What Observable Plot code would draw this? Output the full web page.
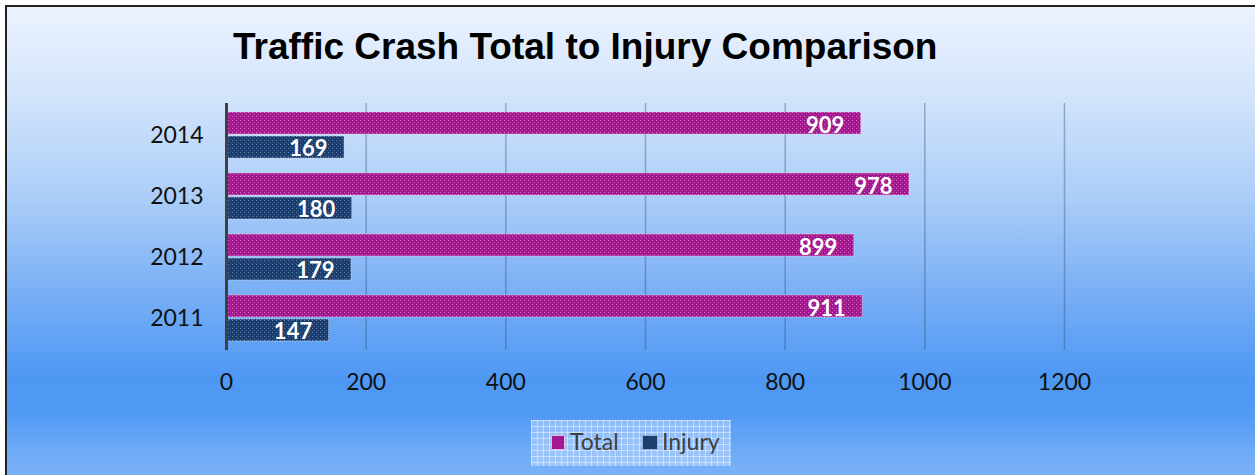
<!DOCTYPE html>
<html>
<head>
<meta charset="utf-8">
<script src="https://cdn.jsdelivr.net/npm/d3@7"></script>
<script src="https://cdn.jsdelivr.net/npm/@observablehq/plot@0.6"></script>
<style>
  html, body { margin: 0; padding: 0; width: 1255px; height: 475px; overflow: hidden; }
  #bg {
    position: absolute; left: 5px; top: 5px; width: 1260px; height: 480px;
    border-top: 2px solid #222; border-left: 2px solid #222;
    background: linear-gradient(to bottom,
      #ebf3fe 0px, #d2e4fb 90px, #a9ccf8 195px, #74acf5 295px,
      #4e98f4 370px, #4f9af5 405px, #6ba8f6 440px, #82b7f8 480px);
  }
  #title {
    position: absolute; left: 233px; top: 28px; margin: 0;
    font-family: "Liberation Sans", Arial, sans-serif; font-weight: bold;
    font-size: 37px; line-height: 37px; color: #000; white-space: nowrap;
  }
  #chart { position: absolute; left: 0; top: 0; }
  #legend {
    position: absolute; left: 531px; top: 420px; width: 200px; height: 46px;
    background-color: rgba(190, 215, 250, 0.55);
    background-image:
      repeating-linear-gradient(to right, rgba(255,255,255,0.45) 0 1px, transparent 1px 6px),
      repeating-linear-gradient(to bottom, rgba(255,255,255,0.45) 0 1px, transparent 1px 6px);
    font-family: Lato, sans-serif; font-weight: 400; font-size: 23px; line-height: 23px; color: #404040;
  }
  #legend .sw { position: absolute; top: 16px; height: 13px; }
  #legend .lab { position: absolute; top: 10px; white-space: nowrap; }
</style>
</head>
<body>
<div id="bg"></div>
<div id="chart"></div>
<div id="title">Traffic Crash Total to Injury Comparison</div>
<div id="legend"></div>
<script>
// ---- data ----
const years = ["2014", "2013", "2012", "2011"];
const series = ["Total", "Injury"];
const totalValues = [909, 978, 899, 911];
const injuryValues = [169, 180, 179, 147];
const xTicks = [0, 200, 400, 600, 800, 1000, 1200];
const seriesColors = ["#a4198f", "#1d3f70"];

const rows = [];
years.forEach((y, i) => {
  rows.push({year: y, series: "Total", value: totalValues[i]});
  rows.push({year: y, series: "Injury", value: injuryValues[i]});
});
const totalRows = rows.filter(d => d.series === "Total");
const injuryRows = rows.filter(d => d.series === "Injury");

const W = 1255, H = 475;
const chart = Plot.plot({
  width: W, height: H,
  marginLeft: 226, marginRight: 191, marginTop: 103, marginBottom: 125,
  style: {background: "transparent", fontFamily: "Lato, sans-serif", fontSize: "23px", fontWeight: 400, color: "#111"},
  x: {domain: [0, 1200], label: null},
  y: {domain: years, paddingInner: 0.24, paddingOuter: 0.12, label: null},
  marks: [
    Plot.ruleX(xTicks.filter(v => v > 0), {stroke: "#2d4b70", strokeOpacity: 0.38, strokeWidth: 1.5}),
    Plot.barX(totalRows, {x: "value", y: "year", insetBottom: 24, fill: "url(#pTotal)",
      stroke: "#f3c6ea", strokeOpacity: 0.8, strokeWidth: 1, strokeDasharray: "1.5,1"}),
    Plot.barX(injuryRows, {x: "value", y: "year", insetTop: 24, fill: "url(#pInjury)",
      stroke: "#c9d6e8", strokeOpacity: 0.8, strokeWidth: 1, strokeDasharray: "1.5,1"}),
    Plot.text(totalRows, {x: "value", y: "year", text: d => String(d.value), textAnchor: "end",
      dx: -17, dy: -10, fill: "white", fontWeight: "bold", fontSize: 22, fontFamily: "Lato, sans-serif"}),
    Plot.text(injuryRows, {x: "value", y: "year", text: d => String(d.value), textAnchor: "end",
      dx: -17, dy: 13, fill: "white", fontWeight: "bold", fontSize: 22, fontFamily: "Lato, sans-serif"}),
    Plot.ruleX([0], {stroke: "#404040", strokeWidth: 3}),
    Plot.axisX({ticks: xTicks, tickFormat: d => String(d), tickSize: 0, tickPadding: 23, label: null, fill: "#111"}),
    Plot.axisY({tickSize: 0, tickPadding: 23, label: null, fill: "#111"})
  ]
});

// patterns for textured bars
const ns = "http://www.w3.org/2000/svg";
const defs = document.createElementNS(ns, "defs");
defs.innerHTML = `
  <pattern id="pTotal" width="4" height="4" patternUnits="userSpaceOnUse">
    <rect width="4" height="4" fill="${seriesColors[0]}"/>
    <rect x="0" y="0" width="1" height="1" fill="#d66cc6"/>
    <rect x="2" y="2" width="1" height="1" fill="#c44bb2"/>
    <rect x="3" y="1" width="1" height="1" fill="#8c0e79"/>
  </pattern>
  <pattern id="pInjury" width="4" height="4" patternUnits="userSpaceOnUse">
    <rect width="4" height="4" fill="${seriesColors[1]}"/>
    <rect x="0" y="0" width="1" height="1" fill="#5b7daa"/>
    <rect x="2" y="2" width="1" height="1" fill="#3e6090"/>
    <rect x="3" y="1" width="1" height="1" fill="#142f58"/>
  </pattern>`;
chart.insertBefore(defs, chart.firstChild);
document.getElementById("chart").appendChild(chart);

// legend
const legend = document.getElementById("legend");
const legendPos = [{sw: 21, sww: 12, lab: 39}, {sw: 112, sww: 14, lab: 131}];
series.forEach((s, i) => {
  const sw = document.createElement("div");
  sw.className = "sw";
  sw.style.left = legendPos[i].sw + "px";
  sw.style.width = legendPos[i].sww + "px";
  sw.style.background = seriesColors[i];
  sw.style.boxShadow = i === 0 ? "0 0 0 1px rgba(240,190,230,0.8)" : "0 0 0 1px rgba(150,170,200,0.8)";
  legend.appendChild(sw);
  const lab = document.createElement("div");
  lab.className = "lab";
  lab.style.left = legendPos[i].lab + "px";
  lab.textContent = s;
  legend.appendChild(lab);
});
</script>
</body>
</html>
